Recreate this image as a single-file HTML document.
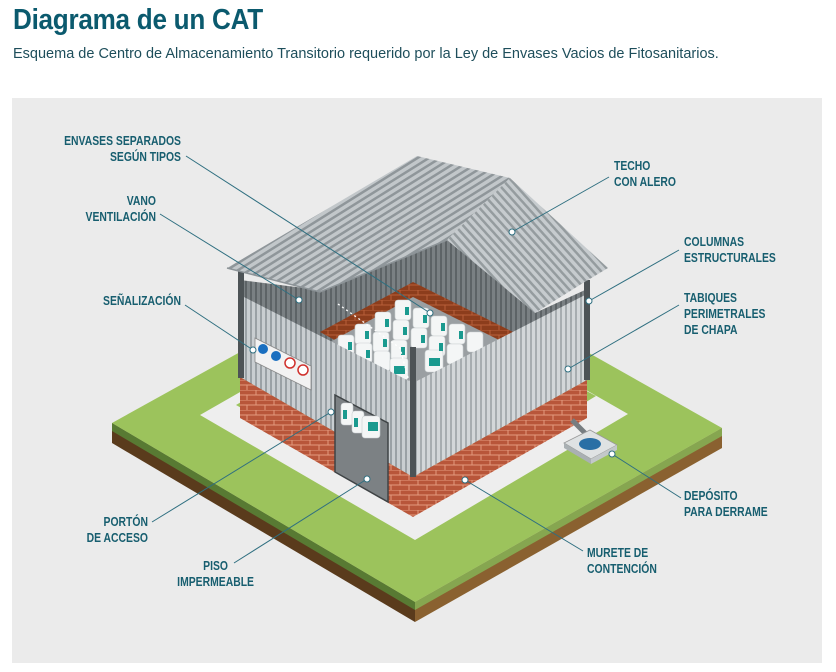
<!DOCTYPE html>
<html><head><meta charset="utf-8">
<style>
html,body{margin:0;padding:0;background:#fff;width:836px;height:672px;overflow:hidden}
h1{position:absolute;left:13px;top:4px;margin:0;font:bold 29px "Liberation Sans",sans-serif;color:#0b5a6e;letter-spacing:-0.3px;transform:scaleX(0.9);transform-origin:0 0;white-space:nowrap}
p{position:absolute;left:13px;top:46px;margin:0;font:14.5px "Liberation Sans",sans-serif;color:#1e4e5b;white-space:nowrap}
svg{position:absolute;left:0;top:0}
.l{font:bold 13px "Liberation Sans",sans-serif;fill:#175e6f}
.ln{stroke:#2f6f80;stroke-width:1;fill:none}
.d{fill:#fff;stroke:#2f6f80;stroke-width:1}
</style></head><body>
<h1>Diagrama de un CAT</h1>
<p>Esquema de Centro de Almacenamiento Transitorio requerido por la Ley de Envases Vacios de Fitosanitarios.</p>
<svg width="836" height="672" viewBox="0 0 836 672">
<defs>
<pattern id="mL" width="5" height="10" patternUnits="userSpaceOnUse"><rect width="5" height="10" fill="#c9ced1"/><rect width="2" height="10" fill="#9aa1a5"/></pattern>
<pattern id="mR" width="5" height="10" patternUnits="userSpaceOnUse"><rect width="5" height="10" fill="#d3d7d9"/><rect width="2" height="10" fill="#a7adb0"/></pattern>
<pattern id="mD" width="5" height="10" patternUnits="userSpaceOnUse"><rect width="5" height="10" fill="#7a8083"/><rect width="2" height="10" fill="#5d6366"/></pattern>
<pattern id="rL" width="6" height="10" patternUnits="userSpaceOnUse" patternTransform="rotate(58)"><rect width="6" height="10" fill="#c2c7ca"/><rect width="2.5" height="10" fill="#8f969a"/></pattern>
<pattern id="rR" width="6" height="10" patternUnits="userSpaceOnUse" patternTransform="rotate(-42)"><rect width="6" height="10" fill="#c6cbce"/><rect width="2.5" height="10" fill="#959c9f"/></pattern>
<pattern id="bk" width="18" height="10" patternUnits="userSpaceOnUse"><rect width="18" height="10" fill="#b8563a"/><path d="M0 0H18M0 5H18M4 0V5M13 5V10" stroke="#e39a7e" stroke-width="1"/></pattern>
<pattern id="bk2" width="18" height="10" patternUnits="userSpaceOnUse"><rect width="18" height="10" fill="#8c3d1c"/><path d="M0 0H18M0 5H18M4 0V5M13 5V10" stroke="#b8603a" stroke-width="1"/></pattern>
</defs>
<rect x="12" y="98" width="810" height="565" fill="#ebebeb"/>
<!-- ground -->
<polygon points="112,423 415,602 415,622 112,443" fill="#5a3b1c"/>
<polygon points="112,423 415,602 415,610 112,431" fill="#587a33"/>
<polygon points="415,602 722,428 722,448 415,622" fill="#8a6130"/>
<polygon points="415,602 722,428 722,436 415,610" fill="#86a650"/>
<polygon points="112,423 415,255 722,428 415,602" fill="#9cc35c"/>
<polygon points="200,415 415,292 628,414 415,540" fill="#eeeeee"/>
<polygon points="236,405 415,300 596,396 415,505" fill="#9cc35c"/>
<!-- dark interior back -->
<polygon points="240,280 320,290 447,238 535,313 585,290 587,380 413,477 240,377" fill="url(#mD)"/>
<!-- interior brick box -->
<polygon points="320,332 413,282 513,332 413,383" fill="url(#bk2)"/>
<polygon points="330,342 413,297 503,342 413,392" fill="#9a9fa2"/>
<!-- jugs -->
<g fill="#f4f6f6" stroke="#c9cfd1" stroke-width="0.6">
<rect x="395" y="300" width="16" height="20" rx="3"/><rect x="413" y="308" width="16" height="20" rx="3"/><rect x="431" y="316" width="16" height="20" rx="3"/><rect x="449" y="324" width="16" height="20" rx="3"/><rect x="467" y="332" width="16" height="20" rx="3"/>
<rect x="375" y="312" width="16" height="20" rx="3"/><rect x="393" y="320" width="16" height="20" rx="3"/><rect x="411" y="328" width="16" height="20" rx="3"/><rect x="429" y="336" width="16" height="20" rx="3"/><rect x="447" y="344" width="16" height="20" rx="3"/>
<rect x="355" y="324" width="16" height="20" rx="3"/><rect x="373" y="332" width="16" height="20" rx="3"/><rect x="391" y="340" width="16" height="20" rx="3"/><rect x="425" y="350" width="18" height="22" rx="3"/>
<rect x="338" y="335" width="16" height="20" rx="3"/><rect x="356" y="343" width="16" height="20" rx="3"/><rect x="374" y="351" width="16" height="20" rx="3"/><rect x="390" y="358" width="18" height="22" rx="3"/>
</g>
<g fill="#1a9a8f">
<rect x="405" y="307" width="4" height="8"/><rect x="423" y="315" width="4" height="8"/><rect x="441" y="323" width="4" height="8"/><rect x="459" y="331" width="4" height="8"/><rect x="385" y="319" width="4" height="8"/><rect x="403" y="327" width="4" height="8"/><rect x="421" y="335" width="4" height="8"/><rect x="439" y="343" width="4" height="8"/><rect x="365" y="331" width="4" height="8"/><rect x="383" y="339" width="4" height="8"/><rect x="401" y="347" width="4" height="8"/><rect x="348" y="342" width="4" height="8"/><rect x="366" y="350" width="4" height="8"/><rect x="429" y="358" width="11" height="8"/><rect x="394" y="366" width="11" height="8"/>
</g>
<polyline points="338,304 400,348 410,385 440,376 492,354 530,330" fill="none" stroke="#fff" stroke-width="1.3" stroke-dasharray="2,3"/>
<!-- walls -->
<polygon points="240,295 413,383 413,477 240,377" fill="url(#mL)"/>
<polygon points="413,383 585,295 587,380 413,477" fill="url(#mR)"/>
<polygon points="240,377 413,477 413,517 240,418" fill="url(#bk)"/>
<polygon points="413,477 587,380 587,418 413,517" fill="url(#bk)"/>
<!-- door -->
<polygon points="335,395 388,423 388,502 335,472" fill="#7c8184" stroke="#3f4446" stroke-width="1.5"/>
<g fill="#f4f6f6" stroke="#c9cfd1" stroke-width="0.6"><rect x="341" y="403" width="12" height="22" rx="3"/><rect x="352" y="411" width="12" height="22" rx="3"/><rect x="362" y="416" width="18" height="22" rx="3"/></g>
<g fill="#1a9a8f"><rect x="343" y="410" width="4" height="9"/><rect x="354" y="418" width="4" height="9"/><rect x="368" y="422" width="10" height="9"/></g>
<!-- columns -->
<rect x="238" y="268" width="6" height="110" fill="#4d5356"/>
<rect x="410" y="347" width="6" height="130" fill="#4d5356"/>
<rect x="584" y="280" width="6" height="100" fill="#4d5356"/>
<!-- sign -->
<polygon points="255,338 311,366 311,390 255,362" fill="#f2f2f2" stroke="#888" stroke-width="0.8"/>
<circle cx="263" cy="349" r="5" fill="#1a6fc0"/><circle cx="276" cy="356" r="5" fill="#1a6fc0"/>
<circle cx="290" cy="363" r="5" fill="#fff" stroke="#d0312d" stroke-width="1.5"/><circle cx="303" cy="370" r="5" fill="#fff" stroke="#d0312d" stroke-width="1.5"/>
<!-- roof -->
<polygon points="227,268 417,156 510,178 447,240 320,292" fill="url(#rL)"/>
<polygon points="447,240 510,178 608,268 583,283 535,313" fill="url(#rR)"/>
<polyline points="227,268 320,292 447,240" fill="none" stroke="#8d9498" stroke-width="1.5"/>
<!-- deposit -->
<line x1="572" y1="420" x2="590" y2="438" stroke="#777d80" stroke-width="5"/>
<polygon points="564,443 590,430 617,445 591,459" fill="#dfe2e3" stroke="#999" stroke-width="0.8"/>
<polygon points="564,443 591,459 591,464 564,448" fill="#aab0b3"/>
<polygon points="591,459 617,445 617,450 591,464" fill="#c3c8ca"/>
<ellipse cx="590" cy="444" rx="11" ry="6" fill="#2a6fa5"/>
<!-- leader lines -->
<path class="ln" d="M186,156 L430,313"/><circle class="d" cx="430" cy="313" r="3"/>
<path class="ln" d="M160,214 L299,300"/><circle class="d" cx="299" cy="300" r="3"/>
<path class="ln" d="M185,305 L253,350"/><circle class="d" cx="253" cy="350" r="3"/>
<path class="ln" d="M609,177 L512,232"/><circle class="d" cx="512" cy="232" r="3"/>
<path class="ln" d="M679,250 L589,301"/><circle class="d" cx="589" cy="301" r="3"/>
<path class="ln" d="M679,305 L568,369"/><circle class="d" cx="568" cy="369" r="3"/>
<path class="ln" d="M681,498 L612,454"/><circle class="d" cx="612" cy="454" r="3"/>
<path class="ln" d="M583,551 L465,480"/><circle class="d" cx="465" cy="480" r="3"/>
<path class="ln" d="M152,522 L331,412"/><circle class="d" cx="331" cy="412" r="3"/>
<path class="ln" d="M234,563 L367,479"/><circle class="d" cx="367" cy="479" r="3"/>
<!-- labels -->
<g class="l">
<text transform="translate(181 145) scale(0.8 1)" text-anchor="end">ENVASES SEPARADOS</text>
<text transform="translate(181 161) scale(0.8 1)" text-anchor="end">SEGÚN TIPOS</text>
<text transform="translate(156 205) scale(0.8 1)" text-anchor="end">VANO</text>
<text transform="translate(156 221) scale(0.8 1)" text-anchor="end">VENTILACIÓN</text>
<text transform="translate(181 305) scale(0.8 1)" text-anchor="end">SEÑALIZACIÓN</text>
<text transform="translate(614 170) scale(0.8 1)">TECHO</text>
<text transform="translate(614 186) scale(0.8 1)">CON ALERO</text>
<text transform="translate(684 246) scale(0.8 1)">COLUMNAS</text>
<text transform="translate(684 262) scale(0.8 1)">ESTRUCTURALES</text>
<text transform="translate(684 302) scale(0.8 1)">TABIQUES</text>
<text transform="translate(684 318) scale(0.8 1)">PERIMETRALES</text>
<text transform="translate(684 334) scale(0.8 1)">DE CHAPA</text>
<text transform="translate(684 500) scale(0.8 1)">DEPÓSITO</text>
<text transform="translate(684 516) scale(0.8 1)">PARA DERRAME</text>
<text transform="translate(587 557) scale(0.8 1)">MURETE DE</text>
<text transform="translate(587 573) scale(0.8 1)">CONTENCIÓN</text>
<text transform="translate(148 526) scale(0.8 1)" text-anchor="end">PORTÓN</text>
<text transform="translate(148 542) scale(0.8 1)" text-anchor="end">DE ACCESO</text>
<text transform="translate(228 570) scale(0.8 1)" text-anchor="end">PISO</text>
<text transform="translate(254 586) scale(0.8 1)" text-anchor="end">IMPERMEABLE</text>
</g>
</svg>
</body></html>
